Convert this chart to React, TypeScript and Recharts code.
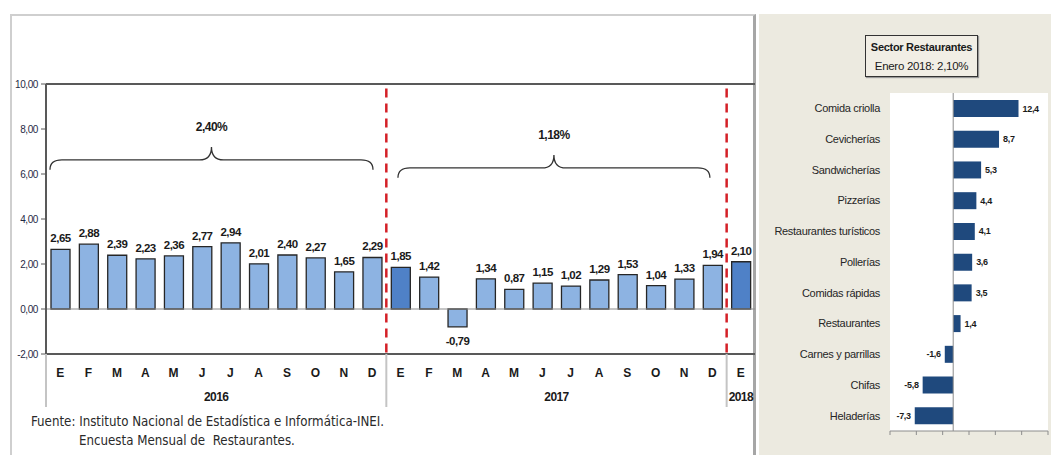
import React from 'react';
import {
  BarChart,
  Bar,
  XAxis,
  YAxis,
  Cell,
  LabelList,
  ReferenceLine,
  ReferenceArea,
  CartesianGrid,
} from 'recharts';

// ---------- Left chart data ----------
const months = ['E', 'F', 'M', 'A', 'M', 'J', 'J', 'A', 'S', 'O', 'N', 'D', 'E', 'F', 'M', 'A', 'M', 'J', 'J', 'A', 'S', 'O', 'N', 'D', 'E'];
const monthValues = [2.65, 2.88, 2.39, 2.23, 2.36, 2.77, 2.94, 2.01, 2.4, 2.27, 1.65, 2.29, 1.85, 1.42, -0.79, 1.34, 0.87, 1.15, 1.02, 1.29, 1.53, 1.04, 1.33, 1.94, 2.1];
const highlightedIdx = [12, 24];
const yearLabels = ['2016', '2017', '2018'];
const yearStarts = [0, 12, 24];
const yearEnds = [11, 23, 24];
const yTicks = [-2, 0, 2, 4, 6, 8, 10];
const braceLabels = ['2,40%', '1,18%'];
const braceFrom = [-0.36, 11.91];
const braceTo = [11.03, 22.91];
const braceLow = [6.19, 5.83];
const braceHigh = [7.2, 6.85];

// ---------- Right chart data ----------
const sectorNames = ['Comida criolla', 'Cevicherías', 'Sandwicherías', 'Pizzerías', 'Restaurantes turísticos', 'Pollerías', 'Comidas rápidas', 'Restaurantes', 'Carnes y parrillas', 'Chifas', 'Heladerías'];
const sectorValues = [12.4, 8.7, 5.3, 4.4, 4.1, 3.6, 3.5, 1.4, -1.6, -5.8, -7.3];
const sectorTicks = [-12, -7, -2, 3, 8, 13, 18];
const panelTitle = 'Sector Restaurantes';
const panelSubtitle = 'Enero 2018: 2,10%';
const sourceLine1 = 'Fuente: Instituto Nacional de Estadística e Informática-INEI.';
const sourceLine2 = 'Encuesta Mensual de  Restaurantes.';

const ARIAL = '"Liberation Sans", Arial, sans-serif';
const COND = '"DejaVu Sans Condensed", "Liberation Sans", sans-serif';

const monthData = months.map((m, i) => ({ idx: i, month: m, value: monthValues[i] }));
const sectorData = sectorNames.map((n, i) => ({ name: n, value: sectorValues[i] }));

const separators = yearStarts.map((s) => s - 0.5);
const yearCenters = yearStarts.map((s, i) => (s + yearEnds[i]) / 2);
const xTicks = Array.from(new Set([...months.map((_, i) => i), ...separators, ...yearCenters])).sort((a, b) => a - b);

const fmt2 = (v: number) => v.toFixed(2).replace('.', ',');
const fmt1 = (v: number) => v.toFixed(1).replace('.', ',');

const MonthTick = (props: any) => {
  const { x, y, payload } = props;
  const v = payload.value as number;
  const parts: React.ReactNode[] = [];
  if (Number.isInteger(v) && v >= 0 && v < months.length) {
    parts.push(
      <text key="m" x={x} y={y + 23} textAnchor="middle" fontFamily={ARIAL} fontWeight="bold" fontSize={12} fill="#1a1a1a">
        {months[v]}
      </text>
    );
  }
  const yi = yearCenters.indexOf(v);
  if (yi >= 0) {
    parts.push(
      <text key="y" x={x} y={y + 47} textAnchor="middle" fontFamily={ARIAL} fontWeight="bold" fontSize={12} letterSpacing={-0.6} fill="#1a1a1a">
        {yearLabels[yi]}
      </text>
    );
  }
  if (separators.indexOf(v) >= 0) {
    parts.push(<line key="s" x1={x} x2={x} y1={y} y2={y + 53} stroke="#c4c4c4" strokeWidth={2} />);
  }
  return <g>{parts}</g>;
};

const BraceShape = (props: any) => {
  const { x, y, width, height } = props;
  const top = y;
  const bottom = y + height;
  const mid = y + height * 0.57;
  const cx = x + width / 2;
  const r = 12;
  const d = `M ${x} ${bottom} Q ${x} ${mid} ${x + r} ${mid} L ${cx - r} ${mid} Q ${cx} ${mid} ${cx} ${top} Q ${cx} ${mid} ${cx + r} ${mid} L ${x + width - r} ${mid} Q ${x + width} ${mid} ${x + width} ${bottom}`;
  return <path d={d} fill="none" stroke="#333" strokeWidth={1.3} />;
};

const monthValueLabel = (props: any) => {
  const { x, y, width, height, value } = props;
  const top = Math.min(y, y + height);
  const bottom = Math.max(y, y + height);
  const cx = x + width / 2;
  return (
    <text x={cx} y={value < 0 ? bottom + 18 : top - 7} textAnchor="middle" fontFamily={ARIAL} fontWeight="bold" fontSize={11.5} letterSpacing={-0.5} fill="#1a1a1a">
      {fmt2(value)}
    </text>
  );
};

const sectorValueLabel = (props: any) => {
  const { x, y, width, height, value } = props;
  const left = Math.min(x, x + width);
  const right = Math.max(x, x + width);
  const cy = y + height / 2 + 3;
  return (
    <text x={value < 0 ? left - 4 : right + 4} y={cy} textAnchor={value < 0 ? 'end' : 'start'} fontFamily={ARIAL} fontWeight="bold" fontSize={9} letterSpacing={-0.3} fill="#1a1a1a">
      {fmt1(value)}
    </text>
  );
};

const EmptyTick = () => <g />;

export default function App() {
  return (
    <div style={{ position: 'absolute', left: 0, top: 0, width: 1051, height: 455, background: '#fff', overflow: 'hidden' }}>
      {/* left panel */}
      <div
        style={{
          position: 'absolute',
          left: 10,
          top: 14,
          width: 746,
          height: 441,
          borderLeft: '2px solid #cfcfcf',
          borderTop: '2px solid #cfcfcf',
          borderRight: '3px solid #a6a6a6',
          background: '#fff',
          boxSizing: 'border-box',
        }}
      />
      <div style={{ position: 'absolute', left: 10, top: 15 }}>
        <BarChart width={748} height={440} data={monthData} margin={{ top: 69, right: 3, bottom: 46, left: 0 }}>
          <XAxis
            dataKey="idx"
            type="number"
            domain={[-0.5, 24.5]}
            ticks={xTicks}
            interval={0}
            allowDecimals
            tickLine={false}
            tickSize={0}
            tickMargin={0}
            axisLine={{ stroke: '#595959', strokeWidth: 2 }}
            height={55}
            tick={<MonthTick />}
          />
          <YAxis
            type="number"
            domain={[-2, 10]}
            ticks={yTicks}
            interval={0}
            width={36}
            axisLine={{ stroke: '#595959', strokeWidth: 2 }}
            tickLine={{ stroke: '#595959' }}
            tickSize={5}
            tickMargin={3}
            tick={{ fontSize: 10, fontFamily: ARIAL, fill: '#1f2a44', letterSpacing: -0.4 }}
            tickFormatter={fmt2}
          />
          <ReferenceLine y={10} stroke="#595959" strokeWidth={2} />
          <ReferenceLine y={0} stroke="#8c8c8c" strokeWidth={1} />
          <Bar dataKey="value" barSize={19} stroke="#262626" strokeWidth={1.3} isAnimationActive={false}>
            {monthData.map((d) => (
              <Cell key={d.idx} fill={highlightedIdx.includes(d.idx) ? '#4f81c7' : '#8db3e2'} />
            ))}
            <LabelList dataKey="value" content={monthValueLabel} />
          </Bar>
          {separators.slice(1).map((s) => (
            <ReferenceLine
              key={s}
              segment={[{ x: s, y: 9.8 }, { x: s, y: -2 }]}
              stroke="#d42027"
              strokeWidth={2.5}
              strokeDasharray="9 6"
            />
          ))}
          {braceLabels.map((lbl, i) => (
            <ReferenceArea
              key={lbl}
              x1={braceFrom[i]}
              x2={braceTo[i]}
              y1={braceLow[i]}
              y2={braceHigh[i]}
              shape={<BraceShape />}
              label={{ value: lbl, position: 'top', offset: 16, fontFamily: ARIAL, fontWeight: 'bold', fontSize: 12, letterSpacing: -0.5, fill: '#1a1a1a' }}
            />
          ))}
        </BarChart>
      </div>
      <div style={{ position: 'absolute', left: 31, top: 414, fontFamily: COND, fontSize: 13.2, color: '#2a2a2a', whiteSpace: 'pre' }}>
        {sourceLine1}
      </div>
      <div style={{ position: 'absolute', left: 79, top: 433, fontFamily: COND, fontSize: 13.2, color: '#2a2a2a', whiteSpace: 'pre' }}>
        {sourceLine2}
      </div>

      {/* right panel */}
      <div style={{ position: 'absolute', left: 759, top: 14, width: 292, height: 441, background: '#eceae0' }} />
      <div
        style={{
          position: 'absolute',
          left: 865,
          top: 35,
          width: 113,
          height: 42,
          border: '1.5px solid #333',
          background: '#f1eee5',
          boxShadow: '1px 1px 1px #999',
          boxSizing: 'border-box',
          textAlign: 'center',
          fontFamily: ARIAL,
          color: '#1a1a1a',
          whiteSpace: 'nowrap',
        }}
      >
        <div style={{ fontSize: 11, fontWeight: 'bold', letterSpacing: -0.3, marginTop: 4, lineHeight: '14px' }}>{panelTitle}</div>
        <div style={{ fontSize: 11.5, letterSpacing: -0.3, marginTop: 5, lineHeight: '14px' }}>{panelSubtitle}</div>
      </div>
      <div style={{ position: 'absolute', left: 758, top: 15 }}>
        <BarChart width={293} height={440} data={sectorData} layout="vertical" margin={{ top: 78, right: 3, bottom: 18, left: 0 }}>
          <CartesianGrid horizontal={false} vertical={false} fill="#ffffff" stroke="none" />
          <XAxis
            type="number"
            domain={[-12, 18]}
            ticks={sectorTicks}
            interval={0}
            height={6}
            axisLine={{ stroke: '#8c8c8c' }}
            tickLine={{ stroke: '#8c8c8c' }}
            tickSize={4}
            tick={<EmptyTick />}
          />
          <YAxis
            type="category"
            dataKey="name"
            width={132}
            axisLine={false}
            tickLine={false}
            tickMargin={4}
            interval={0}
            tick={{ fontSize: 11, fontFamily: ARIAL, fill: '#262626', letterSpacing: -0.3, width: 200 }}
          />
          <ReferenceLine x={0} stroke="#8c8c8c" strokeWidth={1} />
          <Bar dataKey="value" fill="#1f497d" barSize={17} isAnimationActive={false}>
            <LabelList dataKey="value" content={sectorValueLabel} />
          </Bar>
        </BarChart>
      </div>
    </div>
  );
}
